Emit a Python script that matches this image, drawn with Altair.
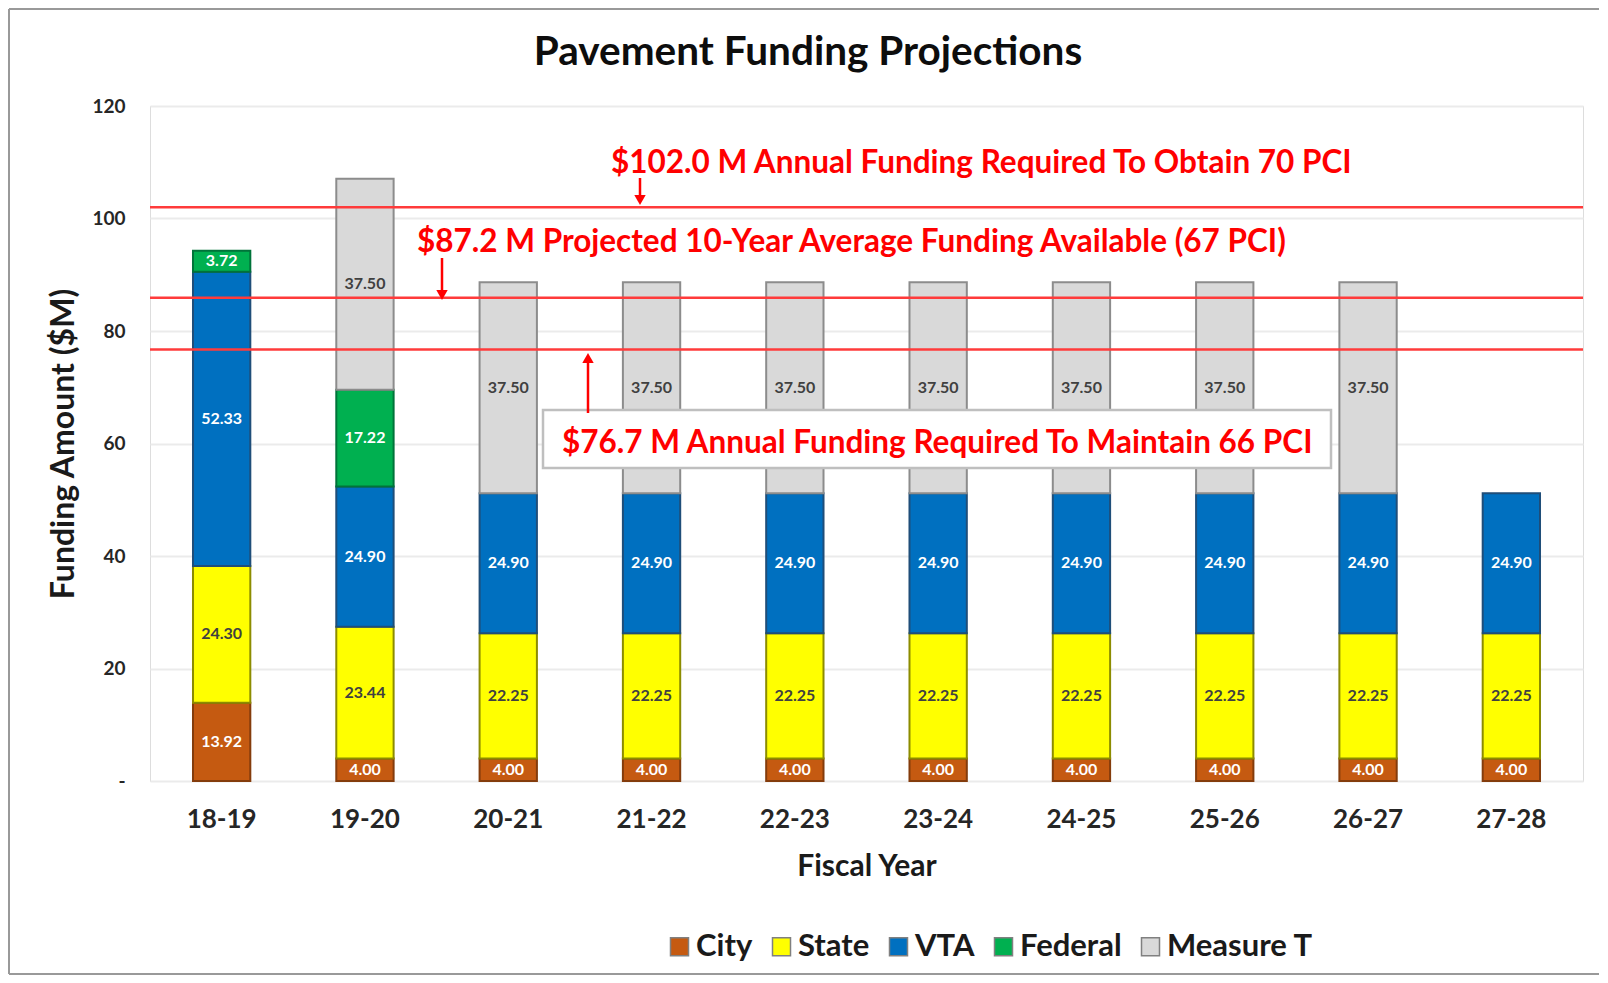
import altair as alt
import pandas as pd

# ---- data ----
years = ["18-19", "19-20", "20-21", "21-22", "22-23", "23-24", "24-25", "25-26", "26-27", "27-28"]
series = ["City", "State", "VTA", "Federal", "Measure T"]
city = [13.92, 4.00, 4.00, 4.00, 4.00, 4.00, 4.00, 4.00, 4.00, 4.00]
state = [24.30, 23.44, 22.25, 22.25, 22.25, 22.25, 22.25, 22.25, 22.25, 22.25]
vta = [52.33, 24.90, 24.90, 24.90, 24.90, 24.90, 24.90, 24.90, 24.90, 24.90]
federal = [3.72, 17.22, 0, 0, 0, 0, 0, 0, 0, 0]
measure_t = [0, 37.50, 37.50, 37.50, 37.50, 37.50, 37.50, 37.50, 37.50, 0]

ref_values = [102.0, 85.9, 76.7]
ref_texts = [
    "$102.0 M Annual Funding Required To Obtain 70 PCI",
    "$87.2 M Projected 10-Year Average Funding Available (67 PCI)",
    "$76.7 M Annual Funding Required To Maintain 66 PCI",
]

fill_colors = ["#C55A11", "#FFFF00", "#0070C0", "#00B050", "#D9D9D9"]
stroke_colors = ["#843C0C", "#8C8C00", "#1F4E79", "#00733A", "#8C8C8C"]
label_colors = ["#FFFFFF", "#404040", "#FFFFFF", "#FFFFFF", "#404040"]

rows = []
for s_i, (name, vals) in enumerate(zip(series, [city, state, vta, federal, measure_t])):
    for y, v in zip(years, vals):
        if v > 0:
            rows.append({"year": y, "series": name, "value": v, "order": s_i,
                         "lblcolor": label_colors[s_i]})
df = pd.DataFrame(rows)

FONT = "Lato"
W, H = 1433, 675

xenc = alt.X("year:N", sort=years, title="Fiscal Year",
             scale=alt.Scale(paddingInner=0.6, paddingOuter=0.3),
             axis=alt.Axis(labelAngle=0, labelFont=FONT, labelFontSize=26, labelFontWeight="bold",
                           labelColor="#262626", labelPadding=25, ticks=False, domain=False,
                           titleFont=FONT, titleFontSize=30, titleFontWeight="bold", titleColor="#1a1a1a",
                           titleBaseline="alphabetic", titleY=94, titleX=W / 2))

base = alt.Chart(df).transform_stack(
    stack="value", groupby=["year"], as_=["v0", "v1"], sort=[alt.SortField("order")]
).transform_calculate(mid="(datum.v0 + datum.v1) / 2")

bars = base.mark_bar(strokeWidth=2).encode(
    x=xenc,
    y=alt.Y("v0:Q", title="Funding Amount ($M)",
            scale=alt.Scale(domain=[0, 120], nice=False),
            axis=alt.Axis(values=[0, 20, 40, 60, 80, 100, 120],
                          labelExpr="datum.value == 0 ? '-' : datum.label",
                          labelFont=FONT, labelFontSize=19, labelFontWeight="bold", labelColor="#262626",
                          labelPadding=25, ticks=False, domain=False,
                          grid=True, gridColor="#EBEBEB", gridWidth=2,
                          titleFont=FONT, titleFontSize=32, titleFontWeight="bold", titleColor="#1a1a1a",
                          titleAngle=270, titleBaseline="alphabetic", titleX=-77, titleY=H / 2)),
    y2="v1:Q",
    color=alt.Color("series:N", scale=alt.Scale(domain=series, range=fill_colors),
                    legend=alt.Legend(title=None, orient="none", direction="horizontal",
                                      legendX=514, legendY=825, symbolType="square", symbolSize=324,
                                      symbolStrokeColor="#808080", symbolStrokeWidth=1.5,
                                      labelFont=FONT, labelFontSize=31, labelFontWeight="bold",
                                      labelColor="#1a1a1a", labelOffset=1, columnPadding=13,
                                      padding=0, labelLimit=400)),
    stroke=alt.Stroke("series:N", scale=alt.Scale(domain=series, range=stroke_colors), legend=None),
    order=alt.Order("order:Q"),
)

labels = base.mark_text(font=FONT, fontSize=16, fontWeight="bold", baseline="middle").encode(
    x=alt.X("year:N", sort=years),
    y=alt.Y("mid:Q"),
    text=alt.Text("value:Q", format=".2f"),
    color=alt.Color("lblcolor:N", scale=None),
)

ref_df = pd.DataFrame({"value": ref_values})
ref_lines = alt.Chart(ref_df).mark_rule(color="#FF3B3B", strokeWidth=2.4).encode(y="value:Q")

# annotation box for the third line
box = alt.Chart(pd.DataFrame({"k": [0]})).mark_rect(
    fill="white", stroke="#BFBFBF", strokeWidth=2.5
).encode(x=alt.value(393), x2=alt.value(1181), y=alt.value(304), y2=alt.value(362))

ann_df = pd.DataFrame({"text": ref_texts, "px": [461, 267, 412], "py": [67, 146, 347]})
ann = alt.Chart(ann_df).mark_text(
    font=FONT, fontSize=31.5, fontWeight="bold", color="#FF0000", align="left", baseline="alphabetic"
).encode(x=alt.X("px:Q", scale=None), y=alt.Y("py:Q", scale=None), text="text:N")

arrow_df = pd.DataFrame({"ax": [490, 292, 438], "ay1": [72, 152, 307], "ay2": [92, 184, 254]})
arrow_shafts = alt.Chart(arrow_df).mark_rule(color="#FF0000", strokeWidth=2.5).encode(
    x=alt.X("ax:Q", scale=None), y=alt.Y("ay1:Q", scale=None), y2="ay2:Q")

head_df = pd.DataFrame({"hx": [490, 292, 438], "hy": [94, 189, 252],
                        "shape": ["triangle-down", "triangle-down", "triangle-up"]})
arrow_heads = alt.Chart(head_df).mark_point(filled=True, color="#FF0000", size=130, opacity=1).encode(
    x=alt.X("hx:Q", scale=None), y=alt.Y("hy:Q", scale=None),
    shape=alt.Shape("shape:N", scale=None))

title = alt.Chart(pd.DataFrame({"t": ["Pavement Funding Projections"]})).mark_text(
    font=FONT, fontSize=40.5, fontWeight="bold", color="#0d0d0d", align="center", baseline="alphabetic"
).encode(x=alt.value(658), y=alt.value(-41), text="t:N")

border_df = pd.DataFrame({"x1": [-141, -141, -141], "x2": [1449, -141, 1449],
                          "y1": [-97, -97, 868], "y2": [-97, 868, 868]})
border = alt.Chart(border_df).mark_rule(color="#999999", strokeWidth=2).encode(
    x=alt.X("x1:Q", scale=None), x2="x2:Q", y=alt.Y("y1:Q", scale=None), y2="y2:Q")

chart = alt.layer(
    bars, labels, ref_lines, box, ann, arrow_shafts, arrow_heads, title, border
).resolve_scale(color="independent").properties(
    width=W, height=H,
    autosize=alt.AutoSizeParams(type="none"),
    padding={"left": 142, "top": 98, "right": 17, "bottom": 194},
).configure_view(stroke="#A6A6A6", strokeWidth=2.5).configure(font=FONT)

chart.save("out.html", embed_options={"renderer": "svg", "actions": False})
